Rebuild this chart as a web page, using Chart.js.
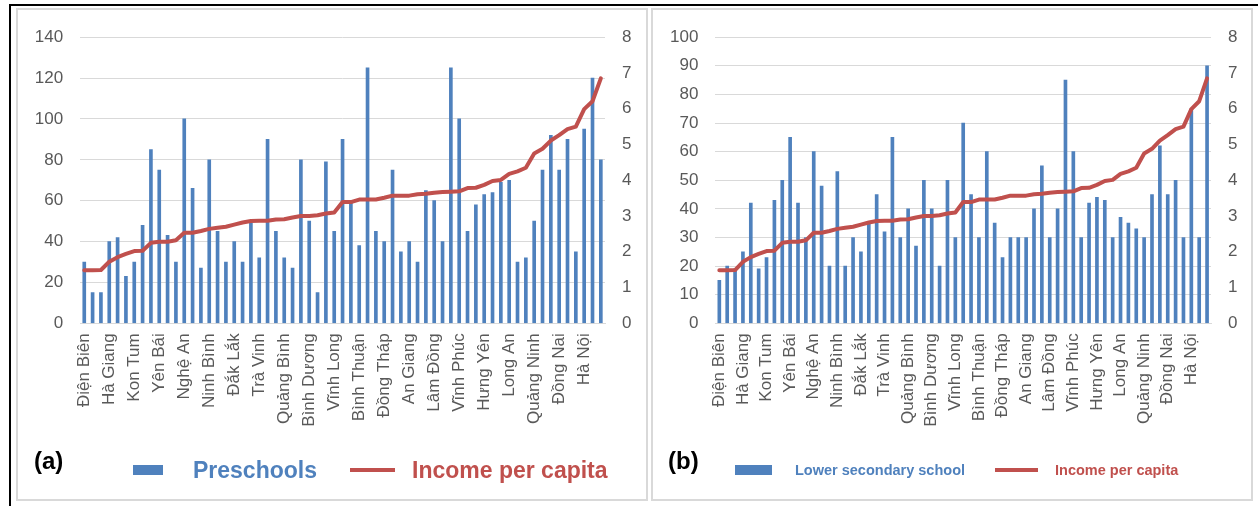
<!DOCTYPE html>
<html>
<head>
<meta charset="utf-8">
<script src="https://cdn.jsdelivr.net/npm/chart.js@4.4.1/dist/chart.umd.min.js"></script>
<style>
  html, body { margin: 0; padding: 0; background: #fff; }
  body { width: 1258px; height: 506px; position: relative; overflow: hidden; font-family: "Liberation Sans", Arial, sans-serif; }
  .frame { position: absolute; left: 9px; top: 4px; width: 1300px; height: 600px; border-top: 2px solid #000; border-left: 2px solid #000; }
  .panel { position: absolute; top: 8px; height: 493px; border: 2px solid #d9d9d9; box-sizing: border-box; background: #fff; }
  canvas { position: absolute; }
  .tag { position: absolute; font-weight: bold; font-size: 24px; line-height: 24px; color: #000; }
  .swatch { position: absolute; }
  .ltext { position: absolute; font-weight: bold; white-space: nowrap; }
</style>
</head>
<body>
<div class="frame"></div>
<div class="panel" style="left:16px; width:632px;"></div>
<div class="panel" style="left:651px; width:602px;"></div>

<canvas id="chartA" width="628" height="440" style="left:18px; top:10px;"></canvas>
<canvas id="chartB" width="598" height="440" style="left:653px; top:10px;"></canvas>

<div class="tag" style="left:34px; top:449px;">(a)</div>
<div class="swatch" style="left:133px; top:465px; width:30px; height:10px; background:#4f81bd;"></div>
<div class="ltext" style="left:193px; top:456px; font-size:23px; line-height:28px; color:#4f81bd;">Preschools</div>
<div class="swatch" style="left:350px; top:468px; width:45px; height:4px; background:#c0504d;"></div>
<div class="ltext" style="left:412px; top:456px; font-size:23px; line-height:28px; color:#c0504d;">Income per capita</div>

<div class="tag" style="left:668px; top:449px;">(b)</div>
<div class="swatch" style="left:735px; top:465px; width:37px; height:10px; background:#4f81bd;"></div>
<div class="ltext" style="left:795px; top:461px; font-size:14.5px; line-height:18px; color:#4f81bd;">Lower secondary school</div>
<div class="swatch" style="left:995px; top:468px; width:43px; height:4px; background:#c0504d;"></div>
<div class="ltext" style="left:1055px; top:461px; font-size:14.5px; line-height:18px; color:#c0504d;">Income per capita</div>

<script>
// Provinces ordered by income per capita; only every third name is printed on the axis.
const labeledProvinces = [
  "Điện Biên", "Hà Giang", "Kon Tum", "Yên Bái", "Nghệ An", "Ninh Bình", "Đắk Lắk",
  "Trà Vinh", "Quảng Bình", "Bình Dương", "Vĩnh Long", "Bình Thuận", "Đồng Tháp",
  "An Giang", "Lâm Đồng", "Vĩnh Phúc", "Hưng Yên", "Long An", "Quảng Ninh", "Đồng Nai", "Hà Nội"
];
const provinceCount = 63;
const categories = [];
for (let i = 0; i < provinceCount; i++) {
  categories.push(i % 3 === 0 ? labeledProvinces[i / 3] : "");
}

// Income per capita (right axis)
const incomePerCapita = [
  1.48, 1.48, 1.49, 1.72, 1.85, 1.94, 2.02, 2.03, 2.25, 2.28,
  2.28, 2.32, 2.53, 2.53, 2.58, 2.64, 2.67, 2.70, 2.76, 2.82,
  2.86, 2.87, 2.87, 2.90, 2.91, 2.96, 3.00, 3.00, 3.02, 3.07,
  3.10, 3.39, 3.39, 3.46, 3.46, 3.46, 3.51, 3.57, 3.57, 3.57,
  3.61, 3.62, 3.65, 3.67, 3.68, 3.69, 3.78, 3.79, 3.87, 3.98,
  4.01, 4.18, 4.25, 4.35, 4.75, 4.88, 5.11, 5.26, 5.43, 5.50,
  5.99, 6.21, 6.85
];

// Preschools (panel a, left axis)
const preschools = [
  30, 15, 15, 40, 42, 23, 30, 48, 85, 75,
  43, 30, 100, 66, 27, 80, 45, 30, 40, 30,
  49, 32, 90, 45, 32, 27, 80, 50, 15, 79,
  45, 90, 59, 38, 125, 45, 40, 75, 35, 40,
  30, 65, 60, 40, 125, 100, 45, 58, 63, 64,
  69, 70, 30, 32, 50, 75, 92, 75, 90, 35,
  95, 120, 80
];

// Lower secondary schools (panel b, left axis)
const lowerSecondary = [
  15, 20, 19, 25, 42, 19, 23, 43, 50, 65,
  42, 30, 60, 48, 20, 53, 20, 30, 25, 35,
  45, 32, 65, 30, 40, 27, 50, 40, 20, 50,
  30, 70, 45, 30, 60, 35, 23, 30, 30, 30,
  40, 55, 30, 40, 85, 60, 30, 42, 44, 43,
  30, 37, 35, 33, 30, 45, 62, 45, 50, 30,
  75, 30, 90
];

const leftTicksA = { max: 140, step: 20 };
const leftTicksB = { max: 100, step: 10 };
const rightTicks = { max: 8, step: 1 };

const BAR_COLOR = "#4f81bd";
const LINE_COLOR = "#c0504d";
const TICK_COLOR = "#595959";
const GRID_COLOR = "#d9d9d9";
const FONT = "'Liberation Sans', Arial, sans-serif";

function buildChart(canvasId, barLabel, barValues, leftScale, box) {
  return new Chart(document.getElementById(canvasId), {
    data: {
      labels: categories,
      datasets: [
        {
          type: "line",
          label: "Income per capita",
          data: incomePerCapita,
          yAxisID: "y1",
          borderColor: LINE_COLOR,
          borderWidth: 4,
          pointRadius: 0,
          tension: 0,
          borderJoinStyle: "round",
          borderCapStyle: "round",
          order: 0
        },
        {
          type: "bar",
          label: barLabel,
          data: barValues,
          yAxisID: "y",
          backgroundColor: BAR_COLOR,
          barThickness: 3,
          order: 1
        }
      ]
    },
    options: {
      responsive: false,
      animation: false,
      devicePixelRatio: 1,
      layout: { padding: { top: box.top, left: 0, right: 0, bottom: 0 } },
      plugins: { legend: { display: false }, tooltip: { enabled: false } },
      scales: {
        x: {
          type: "category",
          offset: true,
          grid: { display: false, drawTicks: false },
          border: { display: true, color: GRID_COLOR, width: 1 },
          ticks: {
            autoSkip: false,
            minRotation: 90,
            maxRotation: 90,
            padding: 10,
            color: TICK_COLOR,
            font: { family: FONT, size: 17 }
          },
          afterFit: s => { s.height = box.xHeight; }
        },
        y: {
          position: "left",
          min: 0,
          max: leftScale.max,
          grid: { color: GRID_COLOR, lineWidth: 1, drawTicks: false },
          border: { display: false },
          ticks: {
            stepSize: leftScale.step,
            padding: 17,
            color: TICK_COLOR,
            font: { family: FONT, size: 17 }
          },
          afterFit: s => { s.width = box.left; }
        },
        y1: {
          position: "right",
          min: 0,
          max: rightTicks.max,
          grid: { drawOnChartArea: false, drawTicks: false },
          border: { display: false },
          ticks: {
            stepSize: rightTicks.step,
            padding: 17,
            color: TICK_COLOR,
            font: { family: FONT, size: 17 }
          },
          afterFit: s => { s.width = box.right; }
        }
      }
    }
  });
}

buildChart("chartA", "Preschools", preschools, leftTicksA,
  { top: 22.3, left: 62.1, right: 41, xHeight: 126.7 });
buildChart("chartB", "Lower secondary school", lowerSecondary, leftTicksB,
  { top: 22.3, left: 62.4, right: 40, xHeight: 126.7 });
</script>
</body>
</html>
